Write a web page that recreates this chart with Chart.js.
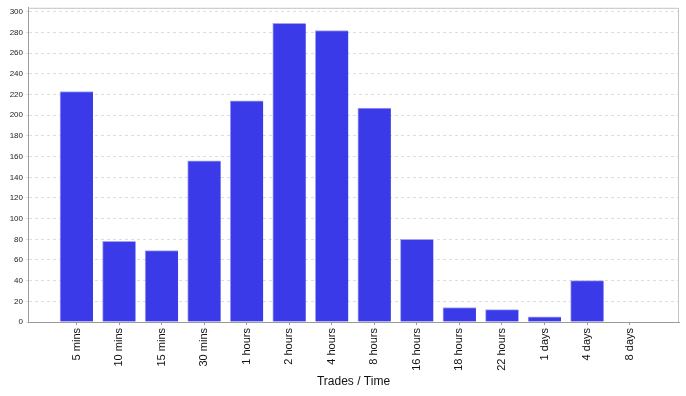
<!DOCTYPE html>
<html>
<head>
<meta charset="utf-8">
<script src="https://cdn.jsdelivr.net/npm/chart.js@4/dist/chart.umd.min.js"></script>
<style>
  html, body { margin: 0; padding: 0; background: #fff; }
  #wrap { width: 686px; height: 396px; position: relative; }
</style>
</head>
<body>
<div id="wrap"><canvas id="myChart"></canvas></div>
<script>
// categories and values
const time_labels = ['5 mins', '10 mins', '15 mins', '30 mins', '1 hours', '2 hours', '4 hours',
                     '8 hours', '16 hours', '18 hours', '22 hours', '1 days', '4 days', '8 days'];
const trade_counts = [223, 78, 69, 156, 214, 289, 282, 207, 80, 14, 12, 5, 40, 0];
const y_ticks = [0, 20, 40, 60, 80, 100, 120, 140, 160, 180, 200, 220, 240, 260, 280, 300];
const x_title = 'Trades / Time';

// linear x so the category axis can keep the wide side margins
let points = [];
for (let i = 0; i < time_labels.length; i++) {
    points.push({ x: i, y: trade_counts[i] });
}

// light frame round the plot, top and right sides
const frame_plugin = {
    id: 'frame',
    afterDraw(chart) {
        const a = chart.chartArea;
        const c = chart.ctx;
        c.save();
        c.strokeStyle = '#c4c4c4';
        c.lineWidth = 1;
        c.beginPath();
        c.moveTo(a.left, a.top + 0.5);
        c.lineTo(a.right - 0.5, a.top + 0.5);
        c.lineTo(a.right - 0.5, a.bottom);
        c.stroke();
        c.restore();
    }
};

const ctx = document.getElementById('myChart');

const kave_chart = new Chart(ctx, {
    type: 'bar',
    data: {
        datasets: [{
            data: points,
            backgroundColor: '#3a3ae9',
            borderColor: '#a3a3f2',
            borderWidth: { left: 1, top: 1, right: 0, bottom: 0 },
            borderSkipped: false,
            barThickness: 33,
        }]
    },
    options: {
        responsive: true,
        maintainAspectRatio: false,
        animation: false,
        layout: { padding: { top: 4, right: 7, left: 0, bottom: 0 } },
        plugins: {
            legend: { display: false },
            tooltip: { enabled: false }
        },
        scales: {
            x: {
                type: 'linear',
                offset: false,
                min: -1.14,
                max: 14.16,
                afterFit: function(scale) { scale.height = 74; },
                afterBuildTicks: function(scale) {
                    let t = [];
                    for (let i = 0; i < time_labels.length; i++) t.push({ value: i });
                    scale.ticks = t;
                },
                grid: {
                    display: true,
                    offset: false,
                    drawOnChartArea: false,
                    drawTicks: true,
                    tickLength: 3,
                    color: '#9a9a9a'
                },
                border: { color: '#9a9a9a', width: 1 },
                ticks: {
                    autoSkip: false,
                    minRotation: 90,
                    maxRotation: 90,
                    padding: 3,
                    color: '#111',
                    font: { family: 'Liberation Sans', size: 11 },
                    callback: function(v) { return time_labels[v]; }
                },
                title: {
                    display: true,
                    text: x_title,
                    color: '#111',
                    font: { family: 'Liberation Sans', size: 12 },
                    padding: { top: 2, bottom: 7 }
                }
            },
            y: {
                min: 0,
                max: 304,
                afterFit: function(scale) { scale.width = 28; },
                afterBuildTicks: function(scale) {
                    scale.ticks = y_ticks.map(v => ({ value: v }));
                },
                grid: {
                    color: '#dedede',
                    tickLength: 2,
                    drawTicks: true
                },
                border: { color: '#9a9a9a', width: 1, dash: [3, 3] },
                ticks: {
                    padding: 3,
                    color: '#222',
                    font: { family: 'Liberation Sans', size: 8 }
                }
            }
        }
    },
    plugins: [frame_plugin]
});
</script>
</body>
</html>
